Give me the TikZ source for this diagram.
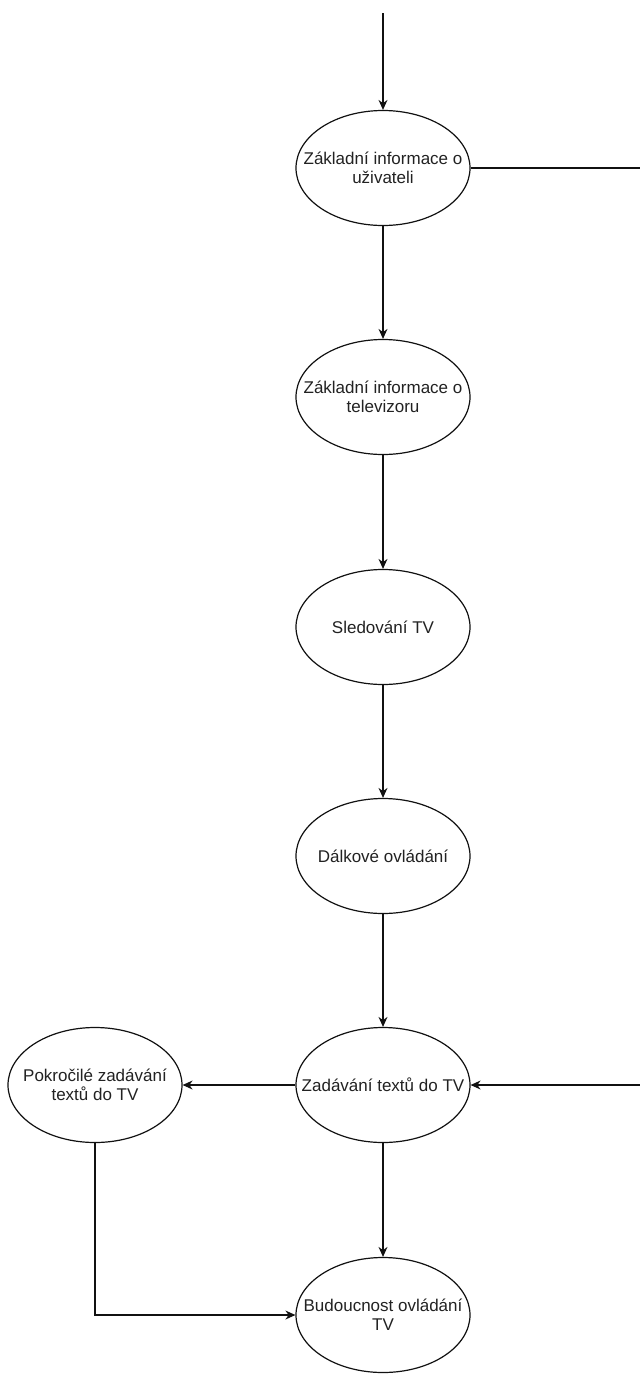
\documentclass[tikz,border=0pt]{standalone}
\usepackage{fontspec}
\usepackage{xcolor}
\usepackage{tikz}
\usetikzlibrary{arrows.meta,shapes.geometric}
\setmainfont{Liberation Sans}
\definecolor{Ink}{HTML}{222222}
\definecolor{Edge}{HTML}{111111}

\begin{document}
\begin{tikzpicture}[x=1pt,y=-1pt]
      \tikzstyle{topic}=[draw=Edge, fill=white, ellipse, line width=1.2pt,
        inner xsep=-60pt, inner ysep=-15pt,
        minimum width=174pt, minimum height=115pt, align=center, text=Ink,
        font=\fontsize{17}{19}\selectfont]
      \tikzstyle{flow}=[-{Stealth[length=10pt,width=9pt]}, line width=1.2pt, color=Edge]
      \useasboundingbox (0,0) rectangle (640,1374);
      \coordinate (start) at (383,13);
      \coordinate (rtop) at (640,168);
      \coordinate (rbot) at (640,1085);
      \node[topic] (uziv) at (383,168) {Základní informace o\\uživateli};
      \node[topic] (tele) at (383,397) {Základní informace o\\televizoru};
      \node[topic] (sled) at (383,627) {Sledování TV};
      \node[topic] (dalk) at (383,856) {Dálkové ovládání};
      \node[topic] (zad) at (383,1085) {Zadávání textů do TV};
      \node[topic] (pokr) at (95,1085) {Pokročilé zadávání\\textů do TV};
      \node[topic] (bud) at (383,1315) {Budoucnost ovládání\\TV};
      \draw[flow] (start) -- (uziv);
      \draw[flow] (uziv) -- (tele);
      \draw[flow] (tele) -- (sled);
      \draw[flow] (sled) -- (dalk);
      \draw[flow] (dalk) -- (zad);
      \draw[flow] (zad) -- (pokr);
      \draw[flow] (zad) -- (bud);
      \draw[flow] (pokr.south) |- (bud.west);
      \draw[line width=1.2pt, color=Edge] (uziv.east) -- (rtop);
      \draw[flow] (rbot) -- (zad.east);
    \end{tikzpicture}
\end{document}
